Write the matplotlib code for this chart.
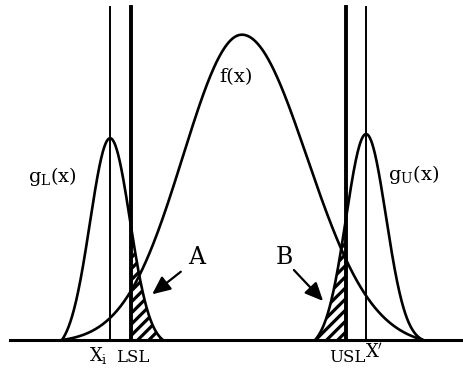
import numpy as np
import matplotlib
matplotlib.use("Agg")
import matplotlib.pyplot as plt

plt.rcParams['font.family'] = 'DejaVu Serif'
plt.rcParams['mathtext.fontset'] = 'dejavuserif'
plt.rcParams['hatch.linewidth'] = 2.3

# axe horizontal en pixels de la figure, hauteur au-dessus de la ligne de base
# f(x) : centre, sigma gauche / droite, hauteur du pic
f_centre = 242
f_sigma = [59, 65]
f_pic = 310
# gL(x) et gU(x) : centre, sigma, hauteur
g_centres = [110, 366]
g_sigma = [20, 20]
g_pics = [211, 212]
# limites de specification et positions des traits verticaux
lsl, usl = 131, 346
xi, x_prime = 110, 366
haut_traits = 333
# bornes des courbes (pieds)
f_pieds = [62, 423]
gl_pieds = [62, 163]
gu_pieds = [315, 423]


def gauss(x, c, s, h):
    return h * np.exp(-0.5 * ((x - c) / s) ** 2)


fig = plt.figure(figsize=(4.63, 3.72), dpi=100)
ax = fig.add_axes([0, 0, 1, 1])
ax.set_xlim(0, 463)
ax.set_ylim(-32, 340)
ax.axis('off')

# courbe f(x)
xf = np.linspace(f_pieds[0], f_pieds[1], 400)
sf = np.where(xf < f_centre, f_sigma[0], f_sigma[1])
yf = gauss(xf, f_centre, sf, f_pic)
yf = yf - np.linspace(yf[0], yf[-1], len(xf))
ax.plot(xf, yf, color='black', lw=1.9, zorder=4)

# courbes gL(x) et gU(x)
xl = np.linspace(gl_pieds[0], gl_pieds[1], 300)
yl = gauss(xl, g_centres[0], g_sigma[0], g_pics[0])
yl = yl - np.linspace(yl[0], yl[-1], len(xl))
xu = np.linspace(gu_pieds[0], gu_pieds[1], 300)
yu = gauss(xu, g_centres[1], g_sigma[1], g_pics[1])
yu = yu - np.linspace(yu[0], yu[-1], len(xu))
ax.plot(xl, yl, color='black', lw=1.9, zorder=4)
ax.plot(xu, yu, color='black', lw=1.9, zorder=4)

# zones hachurees A et B
ax.fill_between(xl, 0, yl, where=xl >= lsl, facecolor='white', edgecolor='black',
                hatch='///', linewidth=0, zorder=2)
ax.fill_between(xu, 0, yu, where=xu <= usl, facecolor='white', edgecolor='black',
                hatch='///', linewidth=0, zorder=2)

# traits verticaux
ax.plot([xi, xi], [0, haut_traits], color='black', lw=1.4, zorder=5)
ax.plot([x_prime, x_prime], [0, haut_traits], color='black', lw=1.4, zorder=5)
ax.plot([lsl, lsl], [0, haut_traits], color='black', lw=2.8, zorder=5)
ax.plot([usl, usl], [0, haut_traits], color='black', lw=2.8, zorder=5)

# ligne de base
ax.plot([10, 463], [0, 0], color='black', lw=2.2, zorder=5)

# fleches A et B
fleche = dict(arrowstyle='-|>,head_length=1.1,head_width=0.5', color='black', lw=1.6)
ax.annotate('', xy=(150, 44), xytext=(183, 70), arrowprops=fleche, zorder=6)
ax.annotate('', xy=(325, 37), xytext=(292, 72), arrowprops=fleche, zorder=6)

# textes
ax.text(197, 83, 'A', fontsize=17, ha='center', va='center')
ax.text(284, 83, 'B', fontsize=17, ha='center', va='center')
ax.text(236, 263, 'f(x)', fontsize=14, ha='center', va='center')
ax.text(52, 164, r'$\mathrm{g_L(x)}$', fontsize=14, ha='center', va='center')
ax.text(414, 165, r'$\mathrm{g_U(x)}$', fontsize=14, ha='center', va='center')
ax.text(98, -16, r'$\mathrm{X_i}$', fontsize=13, ha='center', va='center')
ax.text(133, -17, 'LSL', fontsize=12, ha='center', va='center')
ax.text(347, -17, 'USL', fontsize=12, ha='center', va='center')
ax.text(374, -12, r"$\mathrm{X}^{\prime}$", fontsize=13, ha='center', va='center')

fig.savefig('out.png', dpi=100)
